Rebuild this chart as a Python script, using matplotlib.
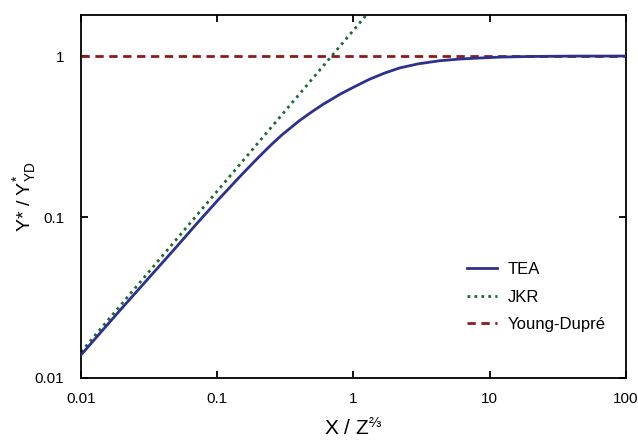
import matplotlib
matplotlib.use("Agg")
import matplotlib.pyplot as plt

plt.rcParams['font.family'] = ['Liberation Sans', 'DejaVu Sans']
plt.rcParams['mathtext.fontset'] = 'custom'
plt.rcParams['mathtext.rm'] = 'Liberation Sans'
plt.rcParams['mathtext.it'] = 'Liberation Sans'

# TEA curve
tea_x = [0.01, 0.015, 0.02, 0.03, 0.05, 0.07, 0.1, 0.15, 0.2, 0.25, 0.3, 0.4, 0.5,
         0.6, 0.8, 1.0, 1.3, 1.7, 2.2, 3.0, 4.3, 6.0, 8.4, 12, 20, 40, 100]
tea_y = [0.0139, 0.0206, 0.0272, 0.040, 0.065, 0.090, 0.126, 0.182, 0.234, 0.282,
         0.325, 0.396, 0.453, 0.502, 0.580, 0.640, 0.715, 0.785, 0.845, 0.895,
         0.935, 0.958, 0.972, 0.985, 0.994, 0.999, 1.0]

# JKR straight line (log-log)
jkr_x = [0.01, 1.3]
jkr_y = [0.0145, 1.88]

# Young-Dupre limit
yd_x = [0.01, 100]
yd_y = [1.0, 1.0]

xticks = [0.01, 0.1, 1, 10, 100]
xtick_labels = ['0.01', '0.1', '1', '10', '100']
yticks = [0.01, 0.1, 1]
ytick_labels = ['0.01', '0.1', '1']

fig = plt.figure(figsize=(6.38, 4.40), dpi=100)
ax = fig.add_axes([0.127, 0.141, 0.854, 0.825])

ax.plot(tea_x, tea_y, color='#2B3190', lw=2.0, label='TEA', zorder=3)
ax.plot(jkr_x, jkr_y, color='#1A6B32', lw=2.0, ls=(0, (1, 1.5)), label='JKR', zorder=2)
ax.plot(yd_x, yd_y, color='#8E1B1B', lw=2.0, ls=(0, (3, 2)), label='Young-Dupré', zorder=2)

ax.set_xscale('log')
ax.set_yscale('log')
ax.set_xlim(0.01, 100)
ax.set_ylim(0.01, 1.8)
ax.set_xticks(xticks)
ax.set_xticklabels(xtick_labels)
ax.set_yticks(yticks)
ax.set_yticklabels(ytick_labels)
ax.minorticks_off()

ax.tick_params(which='major', direction='in', length=5, width=1.3,
               top=True, right=True, labelsize=11)
ax.tick_params(axis='x', pad=10)
ax.tick_params(axis='y', pad=12)
for s in ax.spines.values():
    s.set_linewidth(1.3)

ax.set_xlabel(r'X / Z$^{⅔}$', fontsize=15, labelpad=8)
ax.set_ylabel(r'Y* / Y$^{*}_{\mathrm{YD}}$', fontsize=14, labelpad=-2)

ax.legend(loc='lower right', bbox_to_anchor=(0.99, 0.085), frameon=False,
          fontsize=12, handlelength=1.8, labelspacing=0.75, handletextpad=0.6)

fig.savefig('out.png', dpi=100)
